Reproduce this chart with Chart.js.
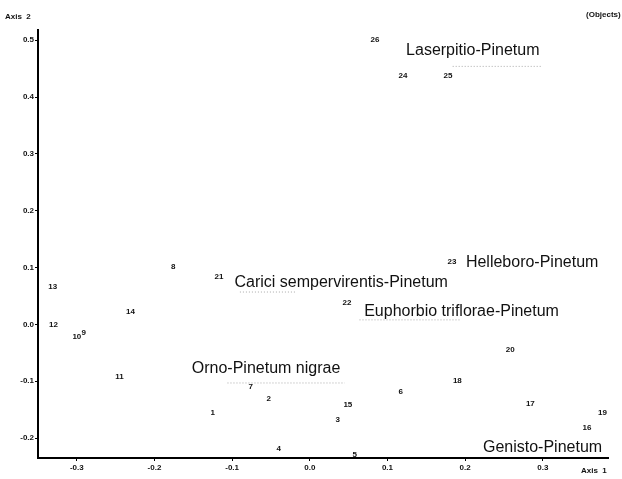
<!DOCTYPE html>
<html>
<head>
<meta charset="utf-8">
<script src="https://cdn.jsdelivr.net/npm/chart.js@4.4.0/dist/chart.umd.min.js"></script>
<style>
  html, body { margin: 0; padding: 0; background: #fff; }
  #wrap { width: 622px; height: 479px; }
</style>
</head>
<body>
<div id="wrap"><canvas id="ord"></canvas></div>
<script>
// relevé numbers and their ordination scores (Axis 1, Axis 2)
const releveLabels = ['26', '24', '25', '23', '8', '21', '13', '22', '14', '12', '10', '9', '20',
                      '11', '18', '7', '6', '2', '15', '17', '1', '3', '19', '16', '4', '5'];
const axis1 = [0.084, 0.120, 0.178, 0.183, -0.176, -0.117, -0.331, 0.048, -0.231, -0.330, -0.300, -0.291, 0.258,
               -0.245, 0.190, -0.076, 0.117, -0.053, 0.049, 0.284, -0.125, 0.036, 0.377, 0.357, -0.040, 0.058];
const axis2 = [0.500, 0.438, 0.438, 0.110, 0.101, 0.083, 0.067, 0.038, 0.022, -0.001, -0.022, -0.015, -0.045,
               -0.093, -0.100, -0.109, -0.119, -0.131, -0.142, -0.140, -0.156, -0.168, -0.156, -0.181, -0.219, -0.230];

// community names (anchored at left edge of text)
const communityNames = ['Laserpitio-Pinetum', 'Helleboro-Pinetum', 'Carici sempervirentis-Pinetum',
                        'Euphorbio triflorae-Pinetum', 'Orno-Pinetum nigrae', 'Genisto-Pinetum'];
const nameX = [0.124, 0.201, -0.097, 0.070, -0.152, 0.223];
const nameY = [0.482, 0.108, 0.073, 0.023, -0.077, -0.217];

// faint dotted underlines below the names: [x0, x1, y]
const underlines = [
    [0.184, 0.299, 0.454],
    [-0.090, -0.019, 0.057],
    [0.064, 0.193, 0.008],
    [-0.106, 0.045, -0.103],
    [0.212, 0.380, -0.237],
];

const xTicks = [-0.3, -0.2, -0.1, 0.0, 0.1, 0.2, 0.3];
const yTicks = [-0.2, -0.1, 0.0, 0.1, 0.2, 0.3, 0.4, 0.5];

function fmt(v) {
    const s = (Math.round(v * 10) / 10).toFixed(1);
    return s === '-0.0' ? '0.0' : s;
}

const textLabels = {
    id: 'textLabels',
    afterDatasetsDraw(chart) {
        const ctx = chart.ctx;
        ctx.save();
        chart.data.datasets.forEach((ds, di) => {
            if (!ds.texts) return;
            const meta = chart.getDatasetMeta(di);
            ctx.font = ds.textFont;
            ctx.fillStyle = '#111';
            ctx.textAlign = ds.textAlign;
            ctx.textBaseline = 'middle';
            meta.data.forEach((pt, i) => ctx.fillText(ds.texts[i], pt.x, pt.y));
        });
        // axis captions
        const a = chart.chartArea;
        ctx.font = 'bold 8px "Liberation Sans", Arial, sans-serif';
        ctx.textAlign = 'left';
        ctx.fillText('Axis  2', 5, 17);
        ctx.fillText('(Objects)', a.right - 22, 15);
        ctx.fillText('Axis  1', a.right - 27, a.bottom + 13);
        ctx.restore();
    }
};

const datasets = [
    {
        label: 'relevés',
        data: axis1.map((x, i) => ({x: x, y: axis2[i]})),
        texts: releveLabels,
        textFont: 'bold 8px "Liberation Sans", Arial, sans-serif',
        textAlign: 'center',
        pointRadius: 0,
        showLine: false,
    },
    {
        label: 'communities',
        data: nameX.map((x, i) => ({x: x, y: nameY[i]})),
        texts: communityNames,
        textFont: '16px "Liberation Sans", Arial, sans-serif',
        textAlign: 'left',
        pointRadius: 0,
        showLine: false,
    },
];
underlines.forEach(u => {
    datasets.push({
        label: 'underline',
        data: [{x: u[0], y: u[2]}, {x: u[1], y: u[2]}],
        showLine: true,
        borderColor: '#aaa',
        borderWidth: 1,
        borderDash: [1, 2],
        pointRadius: 0,
    });
});

new Chart(document.getElementById('ord').getContext('2d'), {
    type: 'scatter',
    data: { datasets: datasets },
    plugins: [textLabels],
    options: {
        responsive: true,
        maintainAspectRatio: false,
        animation: false,
        layout: { padding: { top: 30, right: 14, left: 0, bottom: 0 } },
        plugins: { legend: { display: false }, tooltip: { enabled: false } },
        scales: {
            x: {
                type: 'linear',
                min: -0.350,
                max: 0.384,
                afterFit: s => { s.height = 21; },
                afterBuildTicks: s => { s.ticks = xTicks.map(v => ({value: v})); },
                border: { color: '#000', width: 2 },
                grid: { drawOnChartArea: false, drawTicks: true, tickLength: 3, color: '#000' },
                ticks: {
                    color: '#111',
                    padding: 2,
                    font: { family: '"Liberation Sans", Arial, sans-serif', size: 8, weight: 'bold' },
                    callback: v => fmt(v),
                },
            },
            y: {
                type: 'linear',
                min: -0.235,
                max: 0.518,
                afterFit: s => { s.width = 38; },
                afterBuildTicks: s => { s.ticks = yTicks.map(v => ({value: v})); },
                border: { color: '#000', width: 2 },
                grid: { drawOnChartArea: false, drawTicks: true, tickLength: 3, color: '#000' },
                ticks: {
                    color: '#111',
                    padding: 1,
                    font: { family: '"Liberation Sans", Arial, sans-serif', size: 8, weight: 'bold' },
                    callback: v => fmt(v),
                },
            },
        },
    },
});
</script>
</body>
</html>
